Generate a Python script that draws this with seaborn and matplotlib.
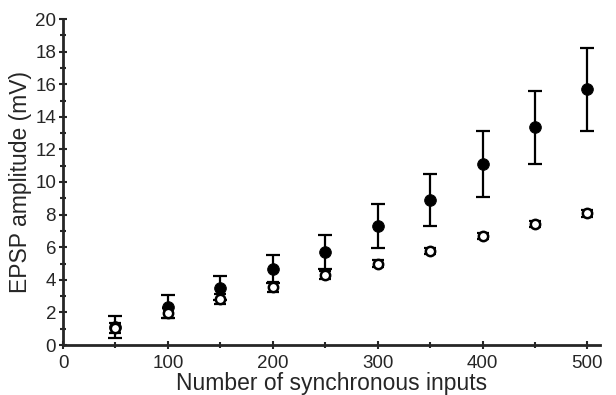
import matplotlib
matplotlib.use("Agg")
import matplotlib.pyplot as plt
import seaborn as sns
import numpy as np
import pandas as pd
from matplotlib.ticker import MultipleLocator

inputs = [50, 100, 150, 200, 250, 300, 350, 400, 450, 500]
filled_mean = [1.1, 2.35, 3.5, 4.65, 5.7, 7.3, 8.9, 11.1, 13.35, 15.7]
filled_err = [0.65, 0.7, 0.75, 0.85, 1.05, 1.33, 1.6, 2.0, 2.25, 2.55]
open_mean = [1.05, 1.95, 2.8, 3.55, 4.3, 5.0, 5.77, 6.7, 7.42, 8.08]
open_err = [0.3, 0.3, 0.3, 0.3, 0.25, 0.2, 0.2, 0.2, 0.2, 0.2]

sns.set_style("ticks")
plt.rcParams['font.family'] = ['Liberation Sans', 'DejaVu Sans']

fig = plt.figure(figsize=(6.16, 3.95), dpi=100)
ax = fig.add_axes([63/616, 1-345/395, (600-63)/616, (345-19)/395])

df_f = pd.DataFrame({"x": inputs, "y": filled_mean})
df_o = pd.DataFrame({"x": inputs, "y": open_mean})

ax.errorbar(inputs, open_mean, yerr=open_err, fmt='none', ecolor='black',
            elinewidth=1.6, capsize=4, capthick=1.6, zorder=2)
ax.errorbar(inputs, filled_mean, yerr=filled_err, fmt='none', ecolor='black',
            elinewidth=1.6, capsize=5, capthick=1.6, zorder=2)
sns.scatterplot(data=df_f, x="x", y="y", ax=ax, color='black', s=70,
                edgecolor='black', zorder=3)
sns.scatterplot(data=df_o, x="x", y="y", ax=ax, color='white', s=45,
                edgecolor='black', linewidth=1.8, zorder=4)

ax.set_xlim(0, 512)
ax.set_ylim(0, 20)
ax.xaxis.set_major_locator(MultipleLocator(100))
ax.xaxis.set_minor_locator(MultipleLocator(50))
ax.yaxis.set_major_locator(MultipleLocator(2))
ax.yaxis.set_minor_locator(MultipleLocator(1))
ax.tick_params(which='major', direction='inout', length=6, width=1.5,
               labelsize=13.5, pad=2)
ax.tick_params(axis='x', which='major', pad=4)
ax.tick_params(which='minor', direction='inout', length=4, width=1.5)
for s in ['left', 'bottom']:
    ax.spines[s].set_linewidth(2)
sns.despine(ax=ax)
ax.set_xlabel("Number of synchronous inputs", fontsize=16.5, labelpad=0)
ax.set_ylabel("EPSP amplitude (mV)", fontsize=16.5, labelpad=2)

fig.savefig("out.png", dpi=100)
